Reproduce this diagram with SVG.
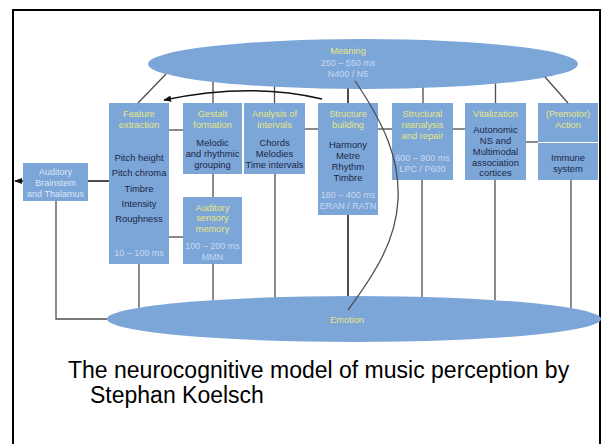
<svg xmlns="http://www.w3.org/2000/svg" width="602" height="444" viewBox="0 0 602 444">
<style>
.box{fill:#7ca5d8}
.ell{fill:#7ca5d8}
text{font-family:"Liberation Sans",Arial,sans-serif;font-size:9px;text-anchor:middle}
.y{fill:#e6e882;font-size:9.3px}
.d{fill:#1b2846;font-size:9.4px}
.p{fill:#c9d9f0}
.w{fill:#dde7f5}
.ln{stroke:#4d4d4d;stroke-width:1.3;fill:none}
.dk{stroke:#111;stroke-width:1.5;fill:none}
.cap{font-size:23px;text-anchor:start;fill:#000}
</style>
<defs>
<marker id="ah" viewBox="0 0 10 10" refX="9" refY="5" markerWidth="8" markerHeight="8" markerUnits="userSpaceOnUse" orient="auto">
<path d="M0,1 L10,5 L0,9 Z" fill="#111"/>
</marker>
</defs>
<rect width="602" height="444" fill="#fff"/>
<rect x="13" y="10" width="587" height="450" fill="none" stroke="#000" stroke-width="2"/>

<g id="meaning">
<ellipse class="ell" cx="363" cy="64" rx="215" ry="25"/>
<text class="y" x="348" y="54">Meaning</text>
<text class="p" x="348" y="65.5">250 – 550 ms</text>
<text class="p" x="348" y="76.5">N400 / N5</text>
</g>
<g id="emotion">
<ellipse class="ell" cx="354" cy="319" rx="247" ry="23"/>
<text class="y" x="347" y="323">Emotion</text>
</g>
<g id="brainstem">
<rect class="box" x="23" y="163" width="65" height="38"/>
<text class="w" x="55.5" y="175">Auditory</text>
<text class="w" x="55.5" y="186">Brainstem</text>
<text class="w" x="55.5" y="196.5">and Thalamus</text>
</g>
<g id="feature">
<rect class="box" x="109" y="103" width="60" height="161"/>
<text class="y" x="139" y="116.5">Feature</text>
<text class="y" x="139" y="127.5">extraction</text>
<text class="d" x="139" y="160.5">Pitch height</text>
<text class="d" x="139" y="176">Pitch chroma</text>
<text class="d" x="139" y="191.5">Timbre</text>
<text class="d" x="139" y="206.5">Intensity</text>
<text class="d" x="139" y="222">Roughness</text>
<text class="p" x="139" y="255.5">10 – 100 ms</text>
</g>
<g id="gestalt">
<rect class="box" x="183" y="103" width="59" height="71"/>
<text class="y" x="212.5" y="116.5">Gestalt</text>
<text class="y" x="212.5" y="127.5">formation</text>
<text class="d" x="212.5" y="145.5">Melodic</text>
<text class="d" x="212.5" y="156.5">and rhythmic</text>
<text class="d" x="212.5" y="167.5">grouping</text>
</g>
<g id="sensory-memory">
<rect class="box" x="183" y="197" width="59" height="67"/>
<text class="y" x="212.5" y="210.5">Auditory</text>
<text class="y" x="212.5" y="221">sensory</text>
<text class="y" x="212.5" y="231.5">memory</text>
<text class="p" x="212.5" y="248.5">100 – 200 ms</text>
<text class="p" x="212.5" y="260">MMN</text>
</g>
<g id="analysis">
<rect class="box" x="244" y="103" width="61" height="71"/>
<text class="y" x="274.5" y="116.5">Analysis of</text>
<text class="y" x="274.5" y="127.5">intervals</text>
<text class="d" x="274.5" y="145.5">Chords</text>
<text class="d" x="274.5" y="156.5">Melodies</text>
<text class="d" x="274.5" y="167.5" textLength="58" lengthAdjust="spacingAndGlyphs">Time intervals</text>
</g>
<g id="structure">
<rect class="box" x="318" y="103" width="60" height="112"/>
<text class="y" x="348" y="116.5">Structure</text>
<text class="y" x="348" y="127.5">building</text>
<text class="d" x="348" y="147.5">Harmony</text>
<text class="d" x="348" y="158.5">Metre</text>
<text class="d" x="348" y="169.5">Rhythm</text>
<text class="d" x="348" y="180.5">Timbre</text>
<text class="p" x="348" y="197.5">180 – 400 ms</text>
<text class="p" x="348" y="208.5">ERAN / RATN</text>
</g>
<g id="reanalysis">
<rect class="box" x="392" y="103" width="61" height="77"/>
<text class="y" x="422.5" y="116.5">Structural</text>
<text class="y" x="422.5" y="127.5">reanalysis</text>
<text class="y" x="422.5" y="139">and repair</text>
<text class="p" x="422.5" y="160.5">600 – 900 ms</text>
<text class="p" x="422.5" y="171.5">LPC / P600</text>
</g>
<g id="vitalization">
<rect class="box" x="465" y="103" width="61" height="77"/>
<text class="y" x="495.5" y="116.5">Vitalization</text>
<text class="d" x="495.5" y="132.5">Autonomic</text>
<text class="d" x="495.5" y="143.5">NS and</text>
<text class="d" x="495.5" y="154.5">Multimodal</text>
<text class="d" x="495.5" y="165.5">association</text>
<text class="d" x="495.5" y="176">cortices</text>
</g>
<g id="premotor">
<rect class="box" x="538" y="103" width="60" height="39"/>
<text class="y" x="568" y="116.5">(Premotor)</text>
<text class="y" x="568" y="127.5">Action</text>
</g>
<g id="immune">
<rect class="box" x="538" y="143" width="60" height="37"/>
<text class="d" x="568" y="160.5">Immune</text>
<text class="d" x="568" y="171.5">system</text>
</g>

<g id="connectors">
<line class="ln" x1="166" y1="74" x2="138" y2="103"/>
<line class="ln" x1="213" y1="82" x2="213" y2="103"/>
<line class="ln" x1="274.5" y1="86.5" x2="274.5" y2="103"/>
<line class="dk" x1="348" y1="88.5" x2="348" y2="103"/>
<line class="ln" x1="423" y1="87.5" x2="423" y2="103"/>
<line class="ln" x1="495.5" y1="83.5" x2="495.5" y2="103"/>
<line class="ln" x1="545" y1="77" x2="568" y2="103"/>
<line class="dk" x1="88" y1="181" x2="109" y2="181"/>
<line class="dk" x1="23" y1="181" x2="15" y2="181" marker-end="url(#ah)"/>
<line class="ln" x1="169" y1="130" x2="183" y2="130"/>
<line class="ln" x1="169" y1="237" x2="183" y2="237"/>
<line class="ln" x1="213" y1="174" x2="213" y2="197"/>
<line class="ln" x1="305" y1="129" x2="318" y2="129"/>
<line class="ln" x1="378" y1="129" x2="392" y2="129"/>
<line class="ln" x1="453" y1="129" x2="465" y2="129"/>
<line class="ln" x1="526" y1="142" x2="538" y2="142"/>
<polyline class="ln" points="56,201 56,319 107,319"/>
<line class="ln" x1="139" y1="264" x2="139" y2="307.7"/>
<line class="ln" x1="213" y1="264" x2="213" y2="300.1"/>
<line class="ln" x1="275" y1="174" x2="275" y2="297.2"/>
<line class="dk" x1="348" y1="215" x2="348" y2="296"/>
<line class="ln" x1="422" y1="180" x2="422" y2="296.9"/>
<line class="ln" x1="495" y1="180" x2="495" y2="300.1"/>
<line class="ln" x1="571" y1="180" x2="571" y2="308"/>
<path class="dk" d="M322,99 Q250,82 164,100" marker-end="url(#ah)"/>
<path class="ln" d="M355,81 C385,125 400,160 398,200 S376,272 348,310"/>
</g>

<text class="cap" x="68" y="378">The neurocognitive model of music perception by</text>
<text class="cap" x="90" y="403">Stephan Koelsch</text>
</svg>
